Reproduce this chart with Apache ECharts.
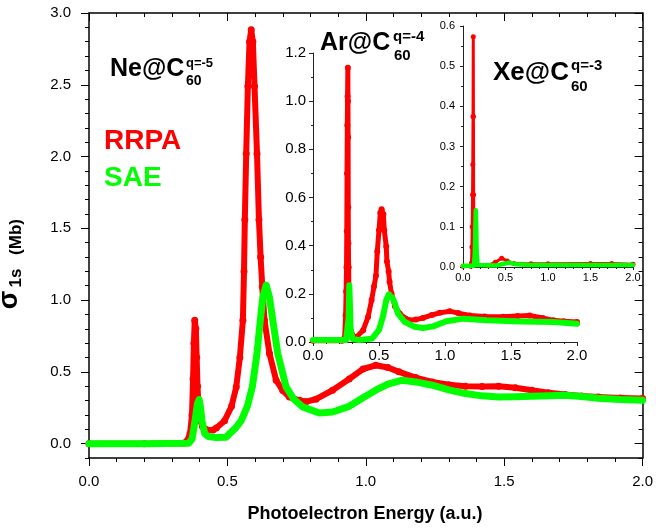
<!DOCTYPE html>
<html>
<head>
<meta charset="utf-8">
<script src="https://cdn.jsdelivr.net/npm/echarts@6/dist/echarts.min.js"></script>
<style>
  html, body { margin: 0; padding: 0; background: #fff; }
  #chart { width: 656px; height: 530px; }
</style>
</head>
<body>
<div id="chart"></div>
<script>
// Ne@C60 (main panel)
var neRrpaX = [0.00, 0.20, 0.34, 0.355, 0.365, 0.372, 0.376, 0.379, 0.382, 0.386, 0.389, 0.392, 0.396, 0.40, 0.41, 0.43, 0.448, 0.46, 0.49, 0.515, 0.532, 0.545, 0.556, 0.560, 0.563, 0.568, 0.574, 0.580, 0.586, 0.592, 0.598, 0.607, 0.614, 0.62, 0.626, 0.634, 0.652, 0.676, 0.70, 0.724, 0.76, 0.784, 0.82, 0.88, 0.94, 0.99, 1.036, 1.08, 1.12, 1.18, 1.24, 1.30, 1.36, 1.42, 1.48, 1.54, 1.60, 1.66, 1.72, 1.78, 1.84, 1.92, 2.00]
var neRrpaY = [0, 0, 0.003, 0.02, 0.07, 0.2, 0.45, 0.7, 0.86, 0.8, 0.6, 0.4, 0.25, 0.17, 0.12, 0.093, 0.095, 0.109, 0.16, 0.26, 0.395, 0.6, 0.86, 1.2, 1.56, 2.02, 2.49, 2.8, 2.884, 2.8, 2.49, 2.02, 1.56, 1.3, 1.093, 0.86, 0.628, 0.442, 0.37, 0.325, 0.302, 0.292, 0.31, 0.372, 0.45, 0.52, 0.546, 0.53, 0.5, 0.46, 0.43, 0.41, 0.4, 0.398, 0.4, 0.39, 0.372, 0.355, 0.342, 0.332, 0.325, 0.318, 0.314]
var neSaeX = [0.00, 0.20, 0.36, 0.372, 0.38, 0.386, 0.392, 0.398, 0.403, 0.408, 0.418, 0.43, 0.46, 0.496, 0.508, 0.53, 0.55, 0.572, 0.59, 0.607, 0.619, 0.628, 0.64, 0.652, 0.664, 0.682, 0.712, 0.74, 0.772, 0.832, 0.88, 0.94, 0.99, 1.036, 1.08, 1.132, 1.18, 1.24, 1.30, 1.36, 1.42, 1.48, 1.54, 1.60, 1.66, 1.72, 1.78, 1.84, 1.92, 2.00]
var neSaeY = [0, 0, 0.003, 0.03, 0.12, 0.2, 0.28, 0.307, 0.25, 0.16, 0.07, 0.05, 0.042, 0.045, 0.07, 0.11, 0.16, 0.26, 0.395, 0.628, 0.86, 1.02, 1.105, 1.02, 0.86, 0.628, 0.395, 0.31, 0.256, 0.214, 0.22, 0.26, 0.32, 0.372, 0.415, 0.442, 0.43, 0.407, 0.375, 0.349, 0.333, 0.325, 0.327, 0.33, 0.334, 0.337, 0.328, 0.316, 0.307, 0.302]

// Ar@C60 (inset)
var arRrpaX = [0.00, 0.22, 0.24, 0.247, 0.251, 0.254, 0.256, 0.258, 0.26, 0.262, 0.264, 0.265, 0.266, 0.267, 0.268, 0.27, 0.272, 0.275, 0.28, 0.29, 0.31, 0.33, 0.38, 0.417, 0.444, 0.462, 0.477, 0.487, 0.50, 0.51, 0.52, 0.533, 0.54, 0.555, 0.56, 0.573, 0.58, 0.595, 0.62, 0.657, 0.70, 0.733, 0.78, 0.833, 0.90, 0.96, 1.035, 1.10, 1.19, 1.30, 1.44, 1.55, 1.64, 1.74, 1.82, 1.90, 2.00]
var arRrpaY = [0.005, 0.005, 0.02, 0.11, 0.21, 0.31, 0.46, 0.7, 0.9, 1.02, 1.139, 1.0, 0.85, 0.56, 0.41, 0.31, 0.21, 0.15, 0.08, 0.04, 0.022, 0.021, 0.049, 0.104, 0.174, 0.23, 0.275, 0.376, 0.464, 0.537, 0.551, 0.53, 0.464, 0.397, 0.334, 0.293, 0.25, 0.2, 0.15, 0.118, 0.098, 0.09, 0.093, 0.1, 0.112, 0.121, 0.128, 0.12, 0.11, 0.106, 0.105, 0.108, 0.11, 0.1, 0.09, 0.086, 0.083]
var arSaeX = [0.00, 0.25, 0.265, 0.27, 0.275, 0.28, 0.285, 0.30, 0.35, 0.447, 0.50, 0.53, 0.555, 0.575, 0.588, 0.605, 0.62, 0.644, 0.694, 0.77, 0.833, 0.91, 1.01, 1.14, 1.316, 1.57, 1.82, 2.00]
var arSaeY = [0.008, 0.008, 0.012, 0.1, 0.236, 0.15, 0.05, 0.012, 0.008, 0.014, 0.05, 0.105, 0.174, 0.198, 0.2, 0.18, 0.16, 0.118, 0.084, 0.063, 0.058, 0.065, 0.086, 0.097, 0.09, 0.085, 0.083, 0.076]

// Xe@C60 (inset)
var xeRrpaX = [0.00, 0.09, 0.10, 0.105, 0.108, 0.112, 0.115, 0.118, 0.121, 0.123, 0.125, 0.127, 0.13, 0.133, 0.137, 0.145, 0.30, 0.38, 0.455, 0.52, 0.60, 0.80, 1.00, 1.50, 1.75, 2.00]
var xeRrpaY = [0.002, 0.002, 0.01, 0.05, 0.1, 0.18, 0.255, 0.375, 0.573, 0.375, 0.18, 0.13, 0.085, 0.048, 0.02, 0.005, 0.004, 0.012, 0.022, 0.015, 0.009, 0.008, 0.008, 0.009, 0.009, 0.007]
var xeSaeX = [0.00, 0.13, 0.14, 0.145, 0.15, 0.155, 0.16, 0.17, 0.40, 0.48, 0.545, 0.62, 0.80, 1.20, 2.00]
var xeSaeY = [0.003, 0.003, 0.04, 0.09, 0.141, 0.105, 0.04, 0.005, 0.004, 0.008, 0.011, 0.007, 0.005, 0.005, 0.005]

// tick labels
var neYTicks = [0, 0.5, 1.0, 1.5, 2.0, 2.5, 3.0]

var RED = '#ff0000'
var GREEN = '#00ff00'
var FONT = '"Liberation Sans", Arial, sans-serif'

function pairs(xs, ys) {
  return xs.map(function (x, i) { return [x, ys[i]] })
}
function fmt1(v) { return Number(v).toFixed(1) }

// fresh objects per axis, never on zero
function blackLine() { return { show: true, onZero: false, lineStyle: { color: '#000', width: 1.5 } } }
function insetLine() { return { show: true, onZero: false, lineStyle: { color: '#222', width: 1 } } }
function noLine() { return { show: false, onZero: false } }

function lineSeries(xi, yi, data, color, width, symSize, z) {
  return {
    type: 'line',
    xAxisIndex: xi,
    yAxisIndex: yi,
    z: z,
    data: data,
    showSymbol: symSize > 0,
    showAllSymbol: true,
    symbol: 'circle',
    symbolSize: symSize,
    itemStyle: { color: color },
    lineStyle: { color: color, width: width, join: 'round', cap: 'round' },
    silent: true
  }
}

var chart = echarts.init(document.getElementById('chart'))

var option = {
  animation: false,
  backgroundColor: '#fff',
  textStyle: { fontFamily: FONT },
  grid: [
    { left: 89, right: 11, top: 13, bottom: 72 },
    { left: 313, right: 79, top: 53, bottom: 188 },
    { left: 463, right: 23, top: 26, bottom: 263 }
  ],
  xAxis: [
    {
      gridIndex: 0, type: 'value', position: 'bottom', min: 0, max: 2, interval: 0.5,
      axisLine: blackLine(),
      axisTick: { show: true, length: 8, lineStyle: { color: '#000', width: 1 } },
      minorTick: { show: true, splitNumber: 5, length: 4, lineStyle: { color: '#000', width: 1 } },
      axisLabel: { formatter: fmt1, fontSize: 15, color: '#000', margin: 16, fontFamily: FONT },
      splitLine: { show: false }
    },
    {
      gridIndex: 0, type: 'value', position: 'top', min: 0, max: 2, interval: 0.5,
      axisLine: blackLine(),
      axisTick: { show: true, inside: true, length: 8, lineStyle: { color: '#000', width: 1 } },
      minorTick: { show: true, splitNumber: 5, length: 4, lineStyle: { color: '#000', width: 1 } },
      axisLabel: { show: false },
      splitLine: { show: false }
    },
    {
      gridIndex: 1, type: 'value', position: 'bottom', min: 0, max: 2, interval: 0.5,
      axisLine: insetLine(),
      axisTick: { show: true, length: 4, lineStyle: { color: '#222' } },
      minorTick: { show: true, splitNumber: 5, length: 2, lineStyle: { color: '#222' } },
      axisLabel: { formatter: fmt1, fontSize: 15, color: '#000', margin: 6, fontFamily: FONT },
      splitLine: { show: false }
    },
    {
      gridIndex: 2, type: 'value', position: 'bottom', min: 0, max: 2, interval: 0.5,
      axisLine: insetLine(),
      axisTick: { show: true, length: 3, lineStyle: { color: '#222' } },
      minorTick: { show: true, splitNumber: 5, length: 2, lineStyle: { color: '#222' } },
      axisLabel: { formatter: fmt1, fontSize: 11, color: '#000', margin: 5, fontFamily: FONT },
      splitLine: { show: false }
    }
  ],
  yAxis: [
    {
      gridIndex: 0, type: 'value', position: 'left', min: -0.1, max: 3, interval: 0.1,
      axisLine: blackLine(),
      axisTick: { show: true, length: 8, customValues: neYTicks, lineStyle: { color: '#000', width: 1 } },
      axisLabel: { customValues: neYTicks, formatter: fmt1, fontSize: 15, color: '#000', margin: 18, fontFamily: FONT },
      splitLine: { show: false }
    },
    {
      gridIndex: 0, type: 'value', position: 'left', min: -0.1, max: 3, interval: 0.1,
      axisLine: noLine(),
      axisTick: { show: true, length: 4, lineStyle: { color: '#000', width: 1 } },
      axisLabel: { show: false },
      splitLine: { show: false }
    },
    {
      gridIndex: 0, type: 'value', position: 'right', min: -0.1, max: 3, interval: 0.1,
      axisLine: blackLine(),
      axisTick: { show: true, inside: true, length: 8, customValues: neYTicks, lineStyle: { color: '#000', width: 1 } },
      axisLabel: { show: false },
      splitLine: { show: false }
    },
    {
      gridIndex: 0, type: 'value', position: 'right', min: -0.1, max: 3, interval: 0.1,
      axisLine: noLine(),
      axisTick: { show: true, inside: true, length: 4, lineStyle: { color: '#000', width: 1 } },
      axisLabel: { show: false },
      splitLine: { show: false }
    },
    {
      gridIndex: 1, type: 'value', position: 'left', min: 0, max: 1.2, interval: 0.2,
      axisLine: insetLine(),
      axisTick: { show: true, length: 4, lineStyle: { color: '#222' } },
      minorTick: { show: true, splitNumber: 2, length: 2, lineStyle: { color: '#222' } },
      axisLabel: { formatter: fmt1, fontSize: 15, color: '#000', margin: 7, fontFamily: FONT },
      splitLine: { show: false }
    },
    {
      gridIndex: 2, type: 'value', position: 'left', min: 0, max: 0.6, interval: 0.1,
      axisLine: insetLine(),
      axisTick: { show: true, length: 3, lineStyle: { color: '#222' } },
      minorTick: { show: true, splitNumber: 2, length: 2, lineStyle: { color: '#222' } },
      axisLabel: { formatter: fmt1, fontSize: 11, color: '#000', margin: 8, fontFamily: FONT },
      splitLine: { show: false }
    }
  ],
  series: [
    lineSeries(0, 0, pairs(neRrpaX, neRrpaY), RED, 6, 7, 2),
    lineSeries(0, 0, pairs(neSaeX, neSaeY), GREEN, 7, 0, 3),
    lineSeries(2, 4, pairs(arRrpaX, arRrpaY), RED, 5, 6, 2),
    lineSeries(2, 4, pairs(arSaeX, arSaeY), GREEN, 6, 0, 3),
    lineSeries(3, 5, pairs(xeRrpaX, xeRrpaY), RED, 3, 5, 2),
    lineSeries(3, 5, pairs(xeSaeX, xeSaeY), GREEN, 4.5, 0, 3)
  ],
  graphic: [
    // panel titles
    { type: 'text', x: 110, y: 69, style: { text: 'Ne@C', font: 'bold 25px ' + FONT, fill: '#000', textVerticalAlign: 'middle', verticalAlign: 'middle' } },
    { type: 'text', x: 186, y: 63, style: { text: 'q=-5', font: 'bold 13px ' + FONT, fill: '#000', textVerticalAlign: 'middle', verticalAlign: 'middle' } },
    { type: 'text', x: 186, y: 81, style: { text: '60', font: 'bold 14px ' + FONT, fill: '#000', textVerticalAlign: 'middle', verticalAlign: 'middle' } },

    { type: 'text', x: 320, y: 43, style: { text: 'Ar@C', font: 'bold 25px ' + FONT, fill: '#000', textVerticalAlign: 'middle', verticalAlign: 'middle' } },
    { type: 'text', x: 393, y: 37, style: { text: 'q=-4', font: 'bold 15px ' + FONT, fill: '#000', textVerticalAlign: 'middle', verticalAlign: 'middle' } },
    { type: 'text', x: 394, y: 56, style: { text: '60', font: 'bold 15px ' + FONT, fill: '#000', textVerticalAlign: 'middle', verticalAlign: 'middle' } },

    { type: 'text', x: 493, y: 73, style: { text: 'Xe@C', font: 'bold 26px ' + FONT, fill: '#000', textVerticalAlign: 'middle', verticalAlign: 'middle' } },
    { type: 'text', x: 571, y: 66, style: { text: 'q=-3', font: 'bold 15px ' + FONT, fill: '#000', textVerticalAlign: 'middle', verticalAlign: 'middle' } },
    { type: 'text', x: 571, y: 87, style: { text: '60', font: 'bold 15px ' + FONT, fill: '#000', textVerticalAlign: 'middle', verticalAlign: 'middle' } },

    // legend words
    { type: 'text', x: 104, y: 141, style: { text: 'RRPA', font: 'bold 28px ' + FONT, fill: RED, textVerticalAlign: 'middle', verticalAlign: 'middle' } },
    { type: 'text', x: 104, y: 178, style: { text: 'SAE', font: 'bold 28px ' + FONT, fill: GREEN, textVerticalAlign: 'middle', verticalAlign: 'middle' } },

    // y axis title (rotated)
    { type: 'text', x: 10, y: 300, rotation: Math.PI / 2, style: { text: 'σ', font: 'bold 27px ' + FONT, fill: '#000', textAlign: 'center', align: 'center', textVerticalAlign: 'middle', verticalAlign: 'middle' } },
    { type: 'text', x: 16, y: 278, rotation: Math.PI / 2, style: { text: '1s', font: 'bold 17px ' + FONT, fill: '#000', textAlign: 'center', align: 'center', textVerticalAlign: 'middle', verticalAlign: 'middle' } },
    { type: 'text', x: 16, y: 237, rotation: Math.PI / 2, style: { text: '(Mb)', font: 'bold 17px ' + FONT, fill: '#000', textAlign: 'center', align: 'center', textVerticalAlign: 'middle', verticalAlign: 'middle' } },

    // x axis title
    { type: 'text', x: 365, y: 514, style: { text: 'Photoelectron Energy (a.u.)', font: 'bold 18px ' + FONT, fill: '#000', textAlign: 'center', align: 'center', textVerticalAlign: 'middle', verticalAlign: 'middle' } }
  ]
}

chart.setOption(option)
</script>
</body>
</html>
